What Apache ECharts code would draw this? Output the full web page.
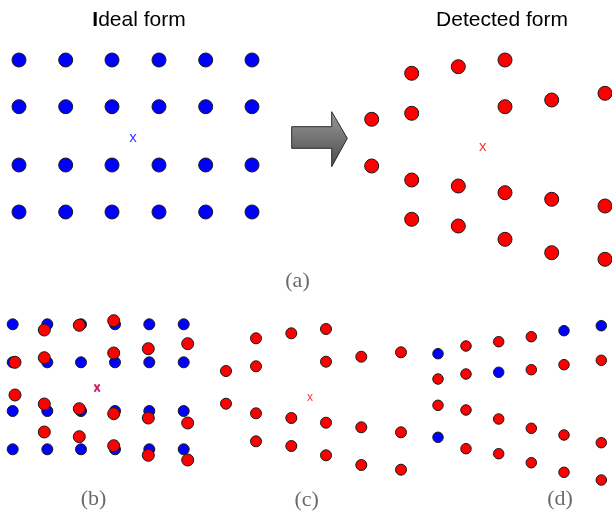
<!DOCTYPE html>
<html><head><meta charset="utf-8">
<script src="https://cdn.jsdelivr.net/npm/echarts@6/dist/echarts.min.js"></script>
<style>html,body{margin:0;padding:0;background:#fff}#c{width:612px;height:513px}</style>
</head><body><div id="c"></div>
<script>
// (a) ideal form grid (blue)
const idealX = [19, 65.7, 112, 159, 205.7, 252];
const idealY = [60, 106.7, 165, 212];
const idealCenter = [[133, 138]];
// (a) detected form (red)
const detected = [
  [411.7,73.3],[458.3,66.7],[505,60],
  [371.7,119.3],[411.7,113.3],[505,106.7],[551.7,100],[605,93.3],
  [371.7,166],[411.7,180],[458.3,186],[505,192.7],[551.7,199.3],[605,206],
  [411.7,219.3],[458.3,226],[505,239.3],[551.7,252.7],[605,259.3]
];
const detectedCenter = [[482.7, 146.7]];
// (b) overlay
const bBlueX = [12.7, 47.3, 81, 115, 149.3, 183.7];
const bBlueY = [324.3, 362.3, 411, 449.3];
const bRed = [
  [44.3,330],[79.3,325.3],[113.7,320.7],[187.7,343.7],[148.3,348.7],[113.7,353],
  [15,362.3],[44.3,357.7],
  [15,395],[44.3,404],[79.3,408.7],[113.7,413.7],[148.3,418],[187.7,423],
  [44.3,432],[79.3,436.7],[113.7,445.7],[148.3,455.3],[187.7,460]
];
const bCenter = [[97, 388]];
// (c)
const cRed = [
  [256,338.3],[291.3,333.3],[326,329],
  [226,371],[256,366.3],[326,361.7],[361.3,356.7],[401,352.3],
  [226,403.7],[256,413.3],[291.3,418],[326,422.7],[361.3,427.3],[401,432.3],
  [256,441.3],[291.3,446],[326,455.3],[361.3,465],[401,469.7]
];
const cCenter = [[310, 397.3]];
// (d)
const dBlue = [[438,353.7],[498.7,372.3],[564,330.7],[601.3,325.7],[438,437.3]];
const dRed = [
  [466,346],[498.7,341.7],[531.3,336.7],
  [438,379],[466,374],[531.3,369.7],[564,364.7],[601.3,360.3],
  [438,405.3],[466,410],[498.7,419],[531.3,428.3],[564,435],[601.3,442.7],
  [466,448.7],[498.7,453.7],[531.3,462.7],[564,472.3],[601.3,480]
];
const panelLabels = [['(a)',297.5,281],['(b)',93.5,499],['(c)',306.7,500],['(d)',560,499.3]];

function grid(xs, ys){ const r=[]; ys.forEach(y=>xs.forEach(x=>r.push([x,y]))); return r; }

function dots(data, color, size, z){
  return {type:'scatter', data, symbol:'circle', symbolSize:size, z:z||2,
    itemStyle:{color, borderColor:'#1a1a1a', borderWidth:1, opacity:1}, silent:true, animation:false};
}
function cross(data, color, fs, z, bold){
  return {type:'scatter', data, symbolSize:1, z:z||5, itemStyle:{color:'rgba(0,0,0,0)'},
    label:{show:true, position:'inside', formatter:'x', color, fontSize:fs, fontWeight:bold?'bold':'normal', fontFamily:'Liberation Sans'},
    silent:true, animation:false};
}

const chart = echarts.init(document.getElementById('c'), null, {renderer:'canvas'});
const series = [
  dots(grid(idealX, idealY), '#0000ff', 14),
  dots(detected, '#ff0000', 14),
  dots(grid(bBlueX, bBlueY), '#0000ff', 11, 2),
  dots(bRed, '#ff0000', 12, 3),
  dots(cRed, '#ff0000', 11),
  dots(dBlue, '#0000ff', 10.5),
  dots(dRed, '#ff0000', 10.5),
  cross(idealCenter, '#0000ff', 15),
  cross(detectedCenter, '#ff0000', 15),
  cross(bCenter, '#3030ff', 13, 5, true),
  cross(bCenter, '#ff0020', 12, 6, true),
  cross(cCenter, '#ff0000', 12),
  {type:'scatter', data: panelLabels.map(p=>[p[1],p[2],p[0]]), symbolSize:1, itemStyle:{color:'rgba(0,0,0,0)'},
   label:{show:true, position:'inside', formatter:p=>p.data[2], color:'#444', fontSize:22, fontFamily:'Liberation Serif'},
   silent:true, animation:false}
];
chart.setOption({
  backgroundColor:'#fff',
  animation:false,
  grid:{left:0,right:0,top:0,bottom:0},
  xAxis:{type:'value', min:0, max:612, show:false},
  yAxis:{type:'value', min:0, max:513, inverse:true, show:false},
  series,
  graphic:[
    {type:'text', x:139, y:20, style:{text:'{b|I}deal form', rich:{b:{fontWeight:'bold', fontSize:21, fontFamily:'Liberation Sans', fill:'#000'}}, fontSize:21, fontFamily:'Liberation Sans', fill:'#000', align:'center', verticalAlign:'middle'}},
    {type:'text', x:502, y:20, style:{text:'Detected form', fontSize:21, fontFamily:'Liberation Sans', fill:'#000', align:'center', verticalAlign:'middle'}},
    {type:'polygon', shape:{points:[[291.7,126.7],[331.7,126.7],[331.7,111.7],[347.3,138.3],[331.7,166.7],[331.7,148.3],[291.7,148.3]]},
     style:{fill:new echarts.graphic.LinearGradient(0,0,0,1,[{offset:0,color:'#9a9a9a'},{offset:1,color:'#4a4a4a'}]), stroke:'#2a2a2a', lineWidth:1}}
  ]
});
</script></body></html>
